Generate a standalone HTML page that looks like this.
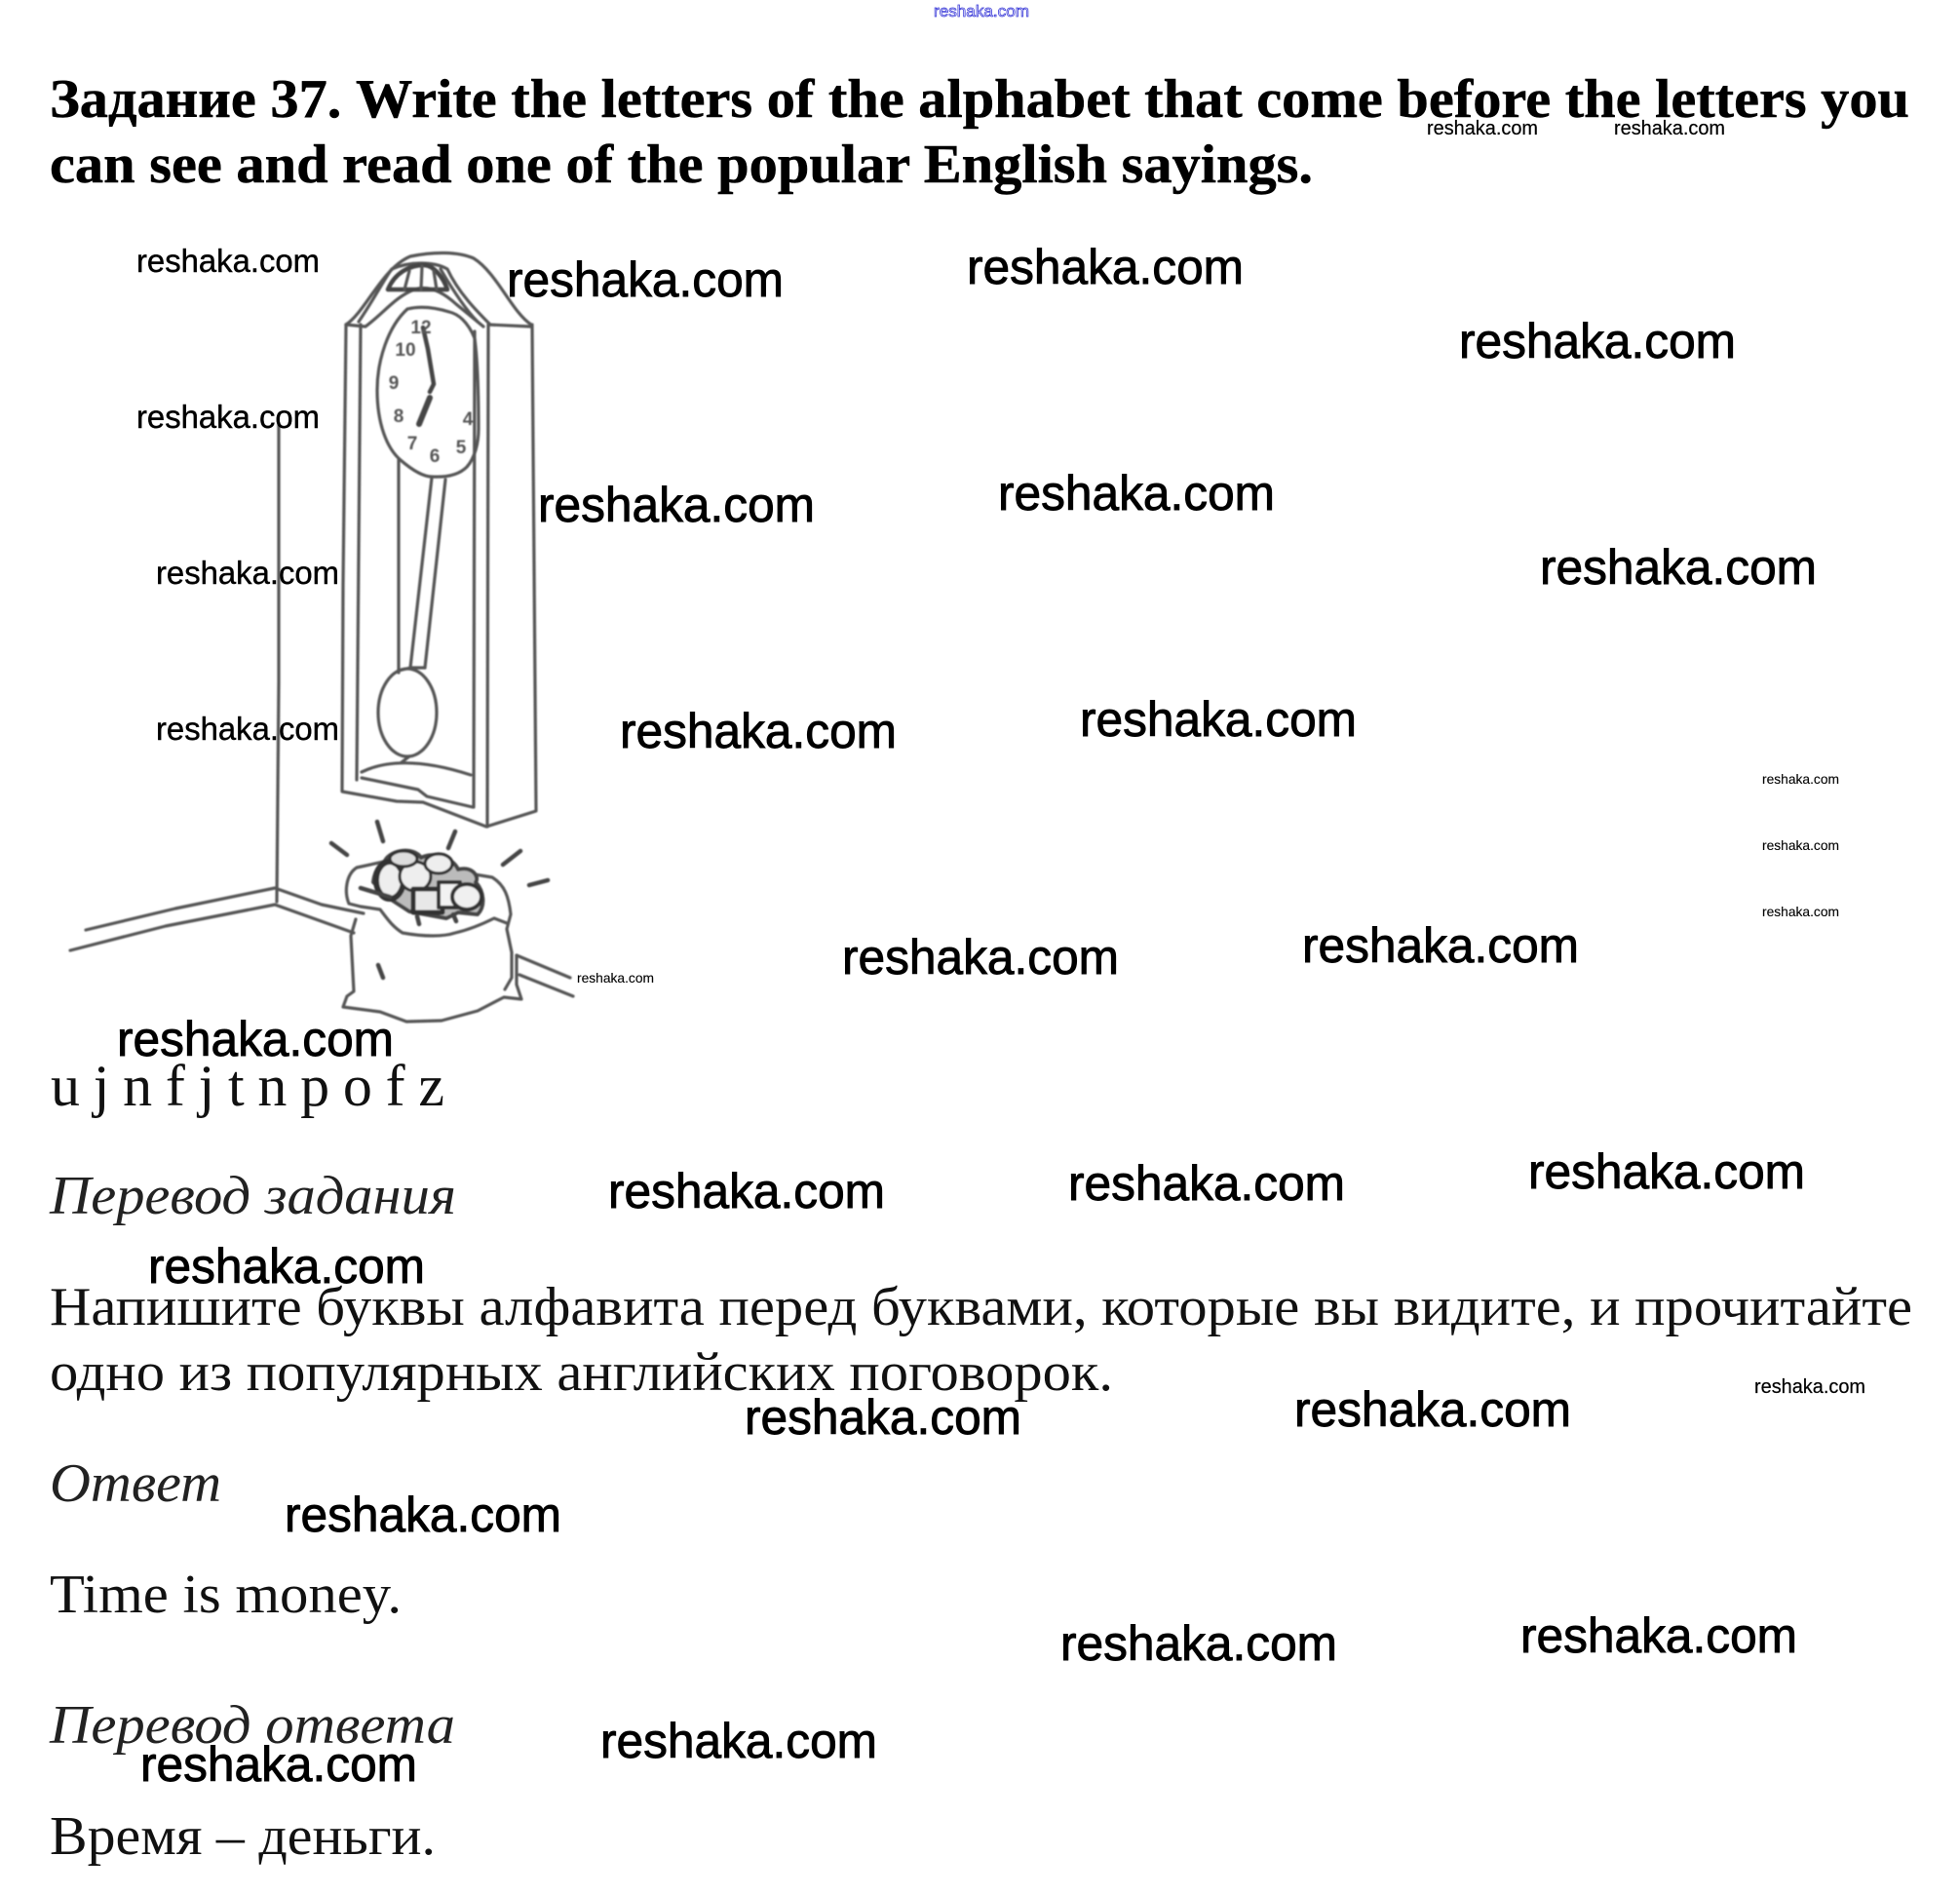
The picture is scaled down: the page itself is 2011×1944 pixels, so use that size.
<!DOCTYPE html>
<html><head><meta charset="utf-8">
<style>
html,body{margin:0;padding:0;background:#fff;width:2011px;height:1944px;overflow:hidden}
svg{display:block}
.b{font-family:"Liberation Serif","Noto Serif CJK SC",serif;font-size:56px;fill:#111}
.h{font-weight:bold;fill:#000;font-size:56px;stroke:#000;stroke-width:.5}
.i{font-style:italic;fill:#222}
.w{font-family:"Liberation Sans",sans-serif;fill:#000;stroke:#000}
.W{font-size:50px;stroke-width:.9}.M{font-size:33px;stroke-width:.4}.S{font-size:20px;stroke-width:.2}.T{font-size:14px;stroke-width:.1}
.d{fill:none;stroke:#555;stroke-width:3.2;stroke-linecap:round;stroke-linejoin:round}
.t{stroke-width:4.5;stroke:#444}
.n{font-family:"Liberation Sans",sans-serif;font-weight:bold;font-size:19px;fill:#555;text-anchor:middle}
</style></head><body>
<svg width="2011" height="1944" viewBox="0 0 2011 1944" xmlns="http://www.w3.org/2000/svg">
<defs><filter id="s" x="-5%" y="-5%" width="110%" height="110%"><feGaussianBlur stdDeviation="0.7"/></filter></defs>
<rect width="2011" height="1944" fill="#fff"/>

<text x="958" y="17" textLength="98" lengthAdjust="spacingAndGlyphs" style="font-family:'Liberation Sans',sans-serif;font-size:17px;fill:#fff;stroke:#3a3ad8;stroke-width:.8">reshaka.com</text>

<text class="b h" x="51" y="120" textLength="1908" lengthAdjust="spacingAndGlyphs">Задание 37. Write the letters of the alphabet that come before the letters you</text>
<text class="b h" x="51" y="187" textLength="1296" lengthAdjust="spacingAndGlyphs">can see and read one of the popular English sayings.</text>

<!-- wall -->
<g filter="url(#s)">
<g class="d">
<path d="M286 436L286 700L284 925"/>
<path d="M88 954L180 932L282 911L330 928L373 937"/>
<path d="M72 975L170 950L282 928L363 957"/>
<path d="M530 980L585 1003M533 1000L588 1022"/>

<!-- clock body -->
<path d="M355 333L352 600L351 812L407 822L434 823L499 848L550 832L546 333"/>
<path d="M370 333L366 800"/>
<path d="M487 340L486 828"/>
<path d="M501 333L500 848"/>
<path d="M371 798L429 810L438 817L485 828"/>
<path d="M371 792Q412 772 483 795"/>
<!-- hood -->
<path d="M355 333C375 320 392 275 421 263C445 258 470 258 486 265C510 280 525 320 545 333"/>
<path d="M355 333L375 335C395 320 405 305 425 297C440 292 455 300 468 312L496 335"/>
<path d="M368 330C385 305 395 285 402 276C420 268 445 268 459 276C470 300 490 320 503 333"/>
<path d="M452 276C466 300 478 318 490 330"/>
<path d="M501 333L545 335"/>
<path d="M398 297C405 280 420 272 435 272C445 272 455 285 459 297Z" class="d t"/>
<path d="M415 297L420 278M432 297L433 273M448 297L445 278"/>
<!-- dial -->
<path d="M418 317C398 335 387 370 387 400C387 435 397 460 411 472C425 484 435 489 443 489C460 490 472 486 479 479C487 470 491 455 491 440C491 400 490 370 487 347C480 330 470 322 461 320C445 315 430 314 418 317"/>
<path d="M409 472L409 690"/>
<path d="M443 490L421 685M457 492L436 685"/>
<path d="M409 688L421 685L436 685"/>
<ellipse cx="418" cy="731" rx="30" ry="45"/>
<path d="M420 776L412 782"/>
<!-- hands -->
<path class="t" d="M434 336L439 358L445 394L441 402"/>
<path class="t" d="M441 408L430 435" style="stroke-width:6"/>
<!-- rays -->
<path class="t" d="M387 843L393 863M340 865L356 877M467 853L460 870M534 873L516 887M562 903L543 908"/>
<!-- sack -->
<path d="M398 883L366 890C355 897 353 915 358 927L370 930L390 933C397 942 402 950 413 957C435 961 455 961 467 957C480 954 495 948 507 942L520 947"/>
<path d="M487 897L505 900C518 908 522 920 524 938L520 953L525 977L525 1003L518 1015"/>
<path d="M530 980L530 1010L535 1025L517 1023L490 1037L453 1047L417 1048L390 1038L352 1033L356 1022L363 1017L360 960L365 943"/>
<path d="M388 990L393 1003" class="t"/>
<!-- coins -->
<g style="stroke:#333">
<path d="M395 883C400 872 425 868 432 880C445 873 465 880 470 892C485 888 492 900 488 905C497 915 498 930 490 938L470 936L458 942L420 935L400 922L383 905C384 895 388 888 395 883Z" style="fill:#bbb;stroke:#444;stroke-width:4"/>
<ellipse cx="400" cy="903" rx="14" ry="19" style="fill:#eee;stroke:#333;stroke-width:6"/>
<ellipse cx="426" cy="899" rx="16" ry="15" style="fill:#eee"/>
<ellipse cx="414" cy="881" rx="14" ry="8" style="fill:#ddd"/>
<rect x="424" y="912" width="30" height="24" style="fill:#e8e8e8;stroke-width:5"/>
<rect x="450" y="905" width="22" height="26" style="fill:#f2f2f2;stroke-width:4"/>
<ellipse cx="450" cy="886" rx="14" ry="10" style="fill:#eee"/>
<ellipse cx="479" cy="920" rx="15" ry="13" style="fill:#f0f0f0;stroke-width:4"/>
<path d="M370 911L400 920M428 940L430 948M465 938L468 945" class="t"/>
</g>
</g>
<g class="n">
<text x="432" y="342">12</text><text x="416" y="365">10</text><text x="404" y="399">9</text><text x="409" y="433">8</text><text x="423" y="461">7</text><text x="446" y="474">6</text><text x="473" y="465">5</text><text x="480" y="436">4</text>
</g>
</g>

<text class="b" x="52" y="1134" textLength="404" lengthAdjust="spacing" style="font-size:60px">ujnfjtnpofz</text>
<text class="b i" x="51" y="1245" textLength="417" lengthAdjust="spacingAndGlyphs">Перевод задания</text>
<text class="b" x="51" y="1359" textLength="1911" lengthAdjust="spacingAndGlyphs">Напишите буквы алфавита перед буквами, которые вы видите, и прочитайте</text>
<text class="b" x="51" y="1426" textLength="1091" lengthAdjust="spacingAndGlyphs">одно из популярных английских поговорок.</text>
<text class="b i" x="51" y="1540" textLength="176" lengthAdjust="spacingAndGlyphs">Ответ</text>
<text class="b" x="51" y="1654" textLength="361" lengthAdjust="spacingAndGlyphs">Time is money.</text>
<text class="b i" x="51" y="1788" textLength="416" lengthAdjust="spacingAndGlyphs">Перевод ответа</text>
<text class="b" x="51" y="1902" textLength="396" lengthAdjust="spacingAndGlyphs">Время – деньги.</text>

<!-- big watermarks -->
<g class="w W">
<text x="520" y="304" textLength="284" lengthAdjust="spacingAndGlyphs">reshaka.com</text>
<text x="992" y="291" textLength="284" lengthAdjust="spacingAndGlyphs">reshaka.com</text>
<text x="1497" y="367" textLength="284" lengthAdjust="spacingAndGlyphs">reshaka.com</text>
<text x="552" y="535" textLength="284" lengthAdjust="spacingAndGlyphs">reshaka.com</text>
<text x="1024" y="523" textLength="284" lengthAdjust="spacingAndGlyphs">reshaka.com</text>
<text x="1580" y="599" textLength="284" lengthAdjust="spacingAndGlyphs">reshaka.com</text>
<text x="636" y="767" textLength="284" lengthAdjust="spacingAndGlyphs">reshaka.com</text>
<text x="1108" y="755" textLength="284" lengthAdjust="spacingAndGlyphs">reshaka.com</text>
<text x="864" y="999" textLength="284" lengthAdjust="spacingAndGlyphs">reshaka.com</text>
<text x="1336" y="987" textLength="284" lengthAdjust="spacingAndGlyphs">reshaka.com</text>
<text x="120" y="1083" textLength="284" lengthAdjust="spacingAndGlyphs">reshaka.com</text>
<text x="624" y="1239" textLength="284" lengthAdjust="spacingAndGlyphs">reshaka.com</text>
<text x="1096" y="1231" textLength="284" lengthAdjust="spacingAndGlyphs">reshaka.com</text>
<text x="1568" y="1219" textLength="284" lengthAdjust="spacingAndGlyphs">reshaka.com</text>
<text x="152" y="1316" textLength="284" lengthAdjust="spacingAndGlyphs">reshaka.com</text>
<text x="764" y="1471" textLength="284" lengthAdjust="spacingAndGlyphs">reshaka.com</text>
<text x="1328" y="1463" textLength="284" lengthAdjust="spacingAndGlyphs">reshaka.com</text>
<text x="292" y="1571" textLength="284" lengthAdjust="spacingAndGlyphs">reshaka.com</text>
<text x="1088" y="1703" textLength="284" lengthAdjust="spacingAndGlyphs">reshaka.com</text>
<text x="1560" y="1695" textLength="284" lengthAdjust="spacingAndGlyphs">reshaka.com</text>
<text x="616" y="1803" textLength="284" lengthAdjust="spacingAndGlyphs">reshaka.com</text>
<text x="144" y="1827" textLength="284" lengthAdjust="spacingAndGlyphs">reshaka.com</text>
</g>
<g class="w M">
<text x="140" y="279" textLength="188" lengthAdjust="spacingAndGlyphs">reshaka.com</text>
<text x="140" y="439" textLength="188" lengthAdjust="spacingAndGlyphs">reshaka.com</text>
<text x="160" y="599" textLength="188" lengthAdjust="spacingAndGlyphs">reshaka.com</text>
<text x="160" y="759" textLength="188" lengthAdjust="spacingAndGlyphs">reshaka.com</text>
</g>
<g class="w S">
<text x="1464" y="138" textLength="114" lengthAdjust="spacingAndGlyphs">reshaka.com</text>
<text x="1656" y="138" textLength="114" lengthAdjust="spacingAndGlyphs">reshaka.com</text>
<text x="1800" y="1429" textLength="114" lengthAdjust="spacingAndGlyphs">reshaka.com</text>
</g>
<g class="w T">
<text x="1808" y="804" textLength="79" lengthAdjust="spacingAndGlyphs">reshaka.com</text>
<text x="1808" y="872" textLength="79" lengthAdjust="spacingAndGlyphs">reshaka.com</text>
<text x="1808" y="940" textLength="79" lengthAdjust="spacingAndGlyphs">reshaka.com</text>
<text x="592" y="1008" textLength="79" lengthAdjust="spacingAndGlyphs">reshaka.com</text>
</g>
</svg>
</body></html>
